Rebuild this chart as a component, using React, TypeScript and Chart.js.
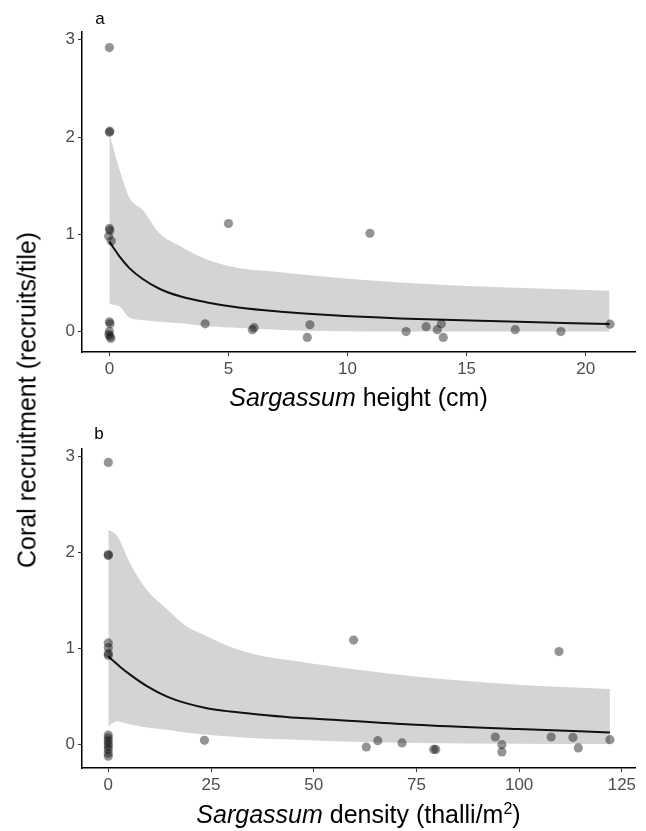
import React, { useEffect, useRef } from "react";
import { Chart, registerables } from "chart.js";

Chart.register(...registerables);

const FONT = "'Liberation Sans', Arial, Helvetica, sans-serif";

// Tick labels
const heightTicks = [0, 5, 10, 15, 20];
const densityTicks = [0, 25, 50, 75, 100, 125];
const recruitTicks = [0, 1, 2, 3];

// Panel a: Sargassum height (cm) observations
const heightObsX = [
  0, 0.02, 0, 0, 0.02, -0.03, 0.08, 0, 0.03, 0, -0.02, 0.03, 0.06,
  4.02, 5.0, 6.0, 6.08, 8.42, 8.31, 10.94, 12.46, 13.3, 13.77, 13.94, 14.02, 17.04, 18.96, 21.02,
];
const heightObsY = [
  2.92, 2.06, 2.05, 1.06, 1.04, 0.98, 0.93, 0.1, 0.08, 0.0, -0.03, -0.05, -0.07,
  0.08, 1.11, 0.02, 0.04, 0.07, -0.06, 1.01, 0.0, 0.05, 0.02, 0.08, -0.06, 0.02, 0.0, 0.076,
];

// Panel a: fitted curve and confidence band
const heightGridX = [0, 0.15, 0.43, 0.85, 1.4, 2.1, 3.0, 4.1, 5.5, 7.2, 9.2, 12.2, 16.4, 21];
const heightFit = [0.926, 0.87, 0.77, 0.65, 0.54, 0.44, 0.36, 0.3, 0.245, 0.205, 0.17, 0.135, 0.105, 0.078];
const heightUpper = [2.04, 1.9, 1.66, 1.37, 1.25, 1.01, 0.875, 0.74, 0.65, 0.61, 0.56, 0.505, 0.455, 0.42];
const heightLower = [0.29, 0.275, 0.257, 0.14, 0.12, 0.1, 0.086, 0.055, 0.037, 0.017, 0.005, 0.0, 0.0, 0.0];

// Panel b: Sargassum density (thalli/m2) observations
const densityObsX = [
  0, 0, 0, 0, 0, 0, 0, 0, 0, 0, 0, 0, 0, 0, 0,
  23.4, 59.7, 62.8, 65.6, 71.5, 79.2, 79.7, 94.2, 95.8, 95.8, 107.8, 109.7, 113.1, 114.4, 122.1,
];
const densityObsY = [
  2.94, 1.98, 1.97, 1.06, 1.01, 0.95, 0.93, 0.1, 0.07, 0.04, 0.01, -0.02, -0.05, -0.09, -0.12,
  0.045, 1.09, -0.024, 0.042, 0.018, -0.05, -0.05, 0.08, 0.0, -0.076, 0.08, 0.97, 0.076, -0.034, 0.052,
];

// Panel b: fitted curve and confidence band
const densityGridX = [0, 2.1, 2.9, 5.3, 9.4, 14.3, 19.1, 24, 29.7, 37.8, 45.9, 54.8, 74.7, 99.8, 122.1];
const densityFit = [0.92, 0.84, 0.81, 0.73, 0.61, 0.5, 0.43, 0.38, 0.345, 0.31, 0.28, 0.26, 0.208, 0.163, 0.128];
const densityUpper = [2.24, 2.18, 2.12, 1.89, 1.61, 1.41, 1.23, 1.13, 1.02, 0.92, 0.87, 0.815, 0.71, 0.625, 0.58];
const densityLower = [0.19, 0.243, 0.235, 0.21, 0.18, 0.155, 0.125, 0.104, 0.085, 0.062, 0.052, 0.035, 0.017, 0.01, 0.007];

type PanelOpts = {
  obsX: number[];
  obsY: number[];
  gridX: number[];
  fit: number[];
  lower: number[];
  upper: number[];
  xMin: number;
  xMax: number;
  yMin: number;
  yMax: number;
  xTicks: number[];
  yTicks: number[];
  padTop: number;
};

function pts(xs: number[], ys: number[]) {
  return xs.map((x, i) => ({ x, y: ys[i] }));
}

function buildConfig(o: PanelOpts): any {
  const tickFont = { family: FONT, size: 17 };
  const grid = {
    display: true,
    drawOnChartArea: false,
    drawTicks: true,
    tickLength: 4,
    color: "#333333",
    lineWidth: 1,
  };
  const border = { display: true, color: "#000000", width: 1.5 };
  return {
    type: "scatter",
    data: {
      datasets: [
        {
          type: "scatter",
          data: pts(o.obsX, o.obsY),
          pointRadius: 4.6,
          pointBackgroundColor: "rgba(0,0,0,0.42)",
          pointBorderWidth: 0,
          pointBorderColor: "rgba(0,0,0,0)",
          order: 0,
        },
        {
          type: "line",
          data: pts(o.gridX, o.fit),
          borderColor: "#111111",
          borderWidth: 2,
          pointRadius: 0,
          fill: false,
          cubicInterpolationMode: "monotone",
          order: 1,
        },
        {
          type: "line",
          data: pts(o.gridX, o.upper),
          borderColor: "rgba(0,0,0,0)",
          borderWidth: 0,
          pointRadius: 0,
          backgroundColor: "#d4d4d4",
          fill: "+1",
          cubicInterpolationMode: "monotone",
          order: 2,
        },
        {
          type: "line",
          data: pts(o.gridX, o.lower),
          borderColor: "rgba(0,0,0,0)",
          borderWidth: 0,
          pointRadius: 0,
          fill: false,
          cubicInterpolationMode: "monotone",
          order: 3,
        },
      ],
    },
    options: {
      animation: false,
      responsive: false,
      events: [],
      layout: { padding: { top: o.padTop, right: 11, left: 0, bottom: 0 } },
      plugins: {
        legend: { display: false },
        tooltip: { enabled: false },
        title: { display: false },
      },
      scales: {
        x: {
          type: "linear",
          min: o.xMin,
          max: o.xMax,
          afterBuildTicks: (s: any) => {
            s.ticks = o.xTicks.map((v) => ({ value: v }));
          },
          afterFit: (s: any) => {
            s.height = 63;
            s.paddingLeft = 0;
            s.paddingRight = 0;
          },
          grid,
          border,
          ticks: {
            font: tickFont,
            color: "#4d4d4d",
            padding: 3,
            maxRotation: 0,
            autoSkip: false,
          },
          title: { display: false },
        },
        y: {
          type: "linear",
          min: o.yMin,
          max: o.yMax,
          afterBuildTicks: (s: any) => {
            s.ticks = o.yTicks.map((v) => ({ value: v }));
          },
          afterFit: (s: any) => {
            s.width = 82;
            s.paddingTop = 0;
            s.paddingBottom = 0;
          },
          grid,
          border,
          ticks: {
            font: tickFont,
            color: "#4d4d4d",
            padding: 3,
            autoSkip: false,
          },
          title: { display: false },
        },
      },
    },
  };
}

function Panel(props: { opts: PanelOpts; top: number; height: number }) {
  const ref = useRef<HTMLCanvasElement | null>(null);
  useEffect(() => {
    if (!ref.current) return;
    const chart = new Chart(ref.current, buildConfig(props.opts));
    return () => chart.destroy();
  }, []);
  return (
    <canvas
      ref={ref}
      width={646}
      height={props.height}
      style={{ position: "absolute", left: 0, top: props.top, width: 646, height: props.height }}
    />
  );
}

const textBase: React.CSSProperties = {
  position: "absolute",
  fontFamily: FONT,
  color: "#000",
  whiteSpace: "nowrap",
  lineHeight: 1,
};

export default function App() {
  const panelA: PanelOpts = {
    obsX: heightObsX,
    obsY: heightObsY,
    gridX: heightGridX,
    fit: heightFit,
    lower: heightLower,
    upper: heightUpper,
    xMin: -1.15,
    xMax: 22.07,
    yMin: -0.21,
    yMax: 3.08,
    xTicks: heightTicks,
    yTicks: recruitTicks,
    padTop: 32,
  };
  const panelB: PanelOpts = {
    obsX: densityObsX,
    obsY: densityObsY,
    gridX: densityGridX,
    fit: densityFit,
    lower: densityLower,
    upper: densityUpper,
    xMin: -6.4,
    xMax: 128.2,
    yMin: -0.243,
    yMax: 3.08,
    xTicks: densityTicks,
    yTicks: recruitTicks,
    padTop: 34,
  };
  return (
    <div
      style={{
        position: "absolute",
        left: 0,
        top: 0,
        width: 646,
        height: 831,
        background: "#fff",
        overflow: "hidden",
      }}
    >
      <Panel opts={panelA} top={0} height={415} />
      <Panel opts={panelB} top={415} height={416} />
      <div style={{ ...textBase, left: 100, top: 18, fontSize: 17, transform: "translate(-50%,-50%)" }}>a</div>
      <div style={{ ...textBase, left: 99, top: 433, fontSize: 17, transform: "translate(-50%,-50%)" }}>b</div>
      <div
        style={{
          ...textBase,
          left: 358.5,
          top: 397,
          fontSize: 25,
          transform: "translate(-50%,-50%)",
        }}
      >
        <i>Sargassum</i> height (cm)
      </div>
      <div
        style={{
          ...textBase,
          left: 358.5,
          top: 814,
          fontSize: 25,
          transform: "translate(-50%,-50%)",
        }}
      >
        <i>Sargassum</i> density (thalli/m<sup style={{ fontSize: 16, verticalAlign: "9px", lineHeight: 0 }}>2</sup>)
      </div>
      <div
        style={{
          ...textBase,
          left: 27,
          top: 400,
          fontSize: 25,
          transform: "translate(-50%,-50%) rotate(-90deg)",
        }}
      >
        Coral recruitment (recruits/tile)
      </div>
    </div>
  );
}
